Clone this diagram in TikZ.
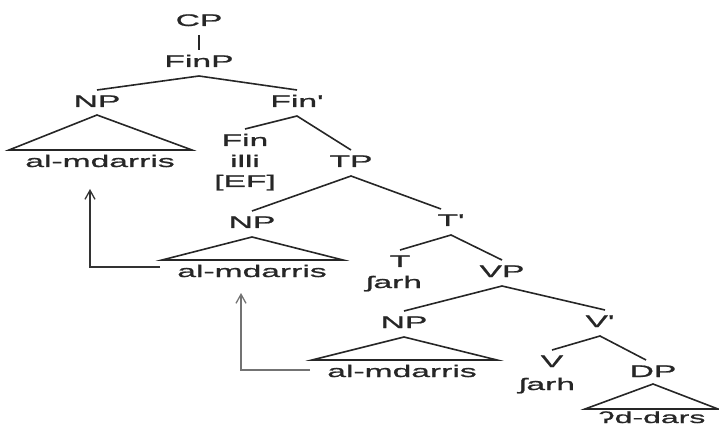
\documentclass[tikz,border=0pt]{standalone}
\usepackage{fontspec}
\setmainfont{Liberation Sans}[FakeStretch=2.0,FakeBold=1.2,Ligatures=TeXOff]
\usetikzlibrary{arrows.meta}
\begin{document}
\begin{tikzpicture}[x=1pt,y=-1pt,
  lab/.style={anchor=base,inner sep=0pt,outer sep=0pt,text height=12pt,text depth=0pt,
    font=\fontsize{16.8}{18}\selectfont,text=black!85},
  br/.style={line width=1.6pt,draw=black!85},
  mv/.style={line width=1.4pt,-{Straight Barb[length=9pt,width=10pt,line width=1.3pt]}}]
\useasboundingbox (0,0) rectangle (719,427);
% labels
\node[lab] (CP) at (199,26) {CP};
\node[lab] (FinP) at (199,67) {FinP};
\node[lab] (NPa) at (97,107) {NP};
\node[lab] (Finb) at (297,107) {Fin'};
\node[lab] (am1) at (100,167) {al-mdarris};
\node[lab] (Fin) at (245,146) {Fin};
\node[lab] (illi) at (245,167) {illi};
\node[lab] (EF) at (245,187) {[EF]};
\node[lab] (TP) at (351,167) {TP};
\node[lab] (NPb) at (252,228) {NP};
\node[lab] (Tb) at (451,226) {T'};
\node[lab] (am2) at (252,277) {al-mdarris};
\node[lab] (T) at (400,267) {T};
\node[lab] (sh1) at (394,288) {ʃarh};
\node[lab] (VP) at (502,277) {VP};
\node[lab] (NPc) at (404,328) {NP};
\node[lab] (Vb) at (600,327) {V'};
\node[lab] (am3) at (402,377) {al-mdarris};
\node[lab] (V) at (552,367) {V};
\node[lab] (sh2) at (547,390) {ʃarh};
\node[lab] (DP) at (653,377) {DP};
\node[lab,font=\fontsize{16}{18}\selectfont] (dd) at (652,423) {ʔd-dars};
% branches
\draw[br] ([yshift=-9pt]CP.south) -- ([yshift=5pt]FinP.north);
\draw[br] ([yshift=5pt]NPa.north) -- ([yshift=-9pt]FinP.south) -- ([yshift=5pt]Finb.north);
\draw[br] ([yshift=5pt]Fin.north) -- ([yshift=-9pt]Finb.south) -- ([yshift=5pt]TP.north);
\draw[br] ([yshift=5pt]NPb.north) -- ([yshift=-9pt]TP.south) -- ([xshift=-10pt,yshift=5pt]Tb.north);
\draw[br] ([yshift=5pt]T.north) -- ([yshift=-9pt]Tb.south) -- ([yshift=5pt]VP.north);
\draw[br] ([yshift=5pt]NPc.north) -- ([yshift=-9pt]VP.south) -- ([xshift=5pt,yshift=5pt]Vb.north);
\draw[br] ([yshift=5pt]V.north) -- ([yshift=-9pt]Vb.south) -- ([xshift=-7pt,yshift=5pt]DP.north);
% triangles
\coordinate (t1l) at (9,150);   \coordinate (t1r) at (192,150);
\coordinate (t2l) at (162,260); \coordinate (t2r) at (343,260);
\coordinate (t3l) at (312,360); \coordinate (t3r) at (497,360);
\coordinate (t4l) at (585,409); \coordinate (t4r) at (718,409);
\draw[br,line join=miter] ([yshift=-8pt]NPa.south) -- (t1l) -- (t1r) -- cycle;
\draw[br,line join=miter] ([yshift=-9pt]NPb.south) -- (t2l) -- (t2r) -- cycle;
\draw[br,line join=miter] ([yshift=-9pt]NPc.south) -- (t3l) -- (t3r) -- cycle;
\draw[br,line join=miter] ([yshift=-7pt]DP.south) -- (t4l) -- (t4r) -- cycle;
% movement arrows
\coordinate (m1) at (160,267);
\coordinate (m2) at (310,370);
\draw[mv,draw=black!80] (m1) -| ([xshift=-10pt,yshift=-22pt]am1.south);
\draw[mv,draw=black!55] (m2) -| ([xshift=-11pt,yshift=-16pt]am2.south);
\end{tikzpicture}
\end{document}
